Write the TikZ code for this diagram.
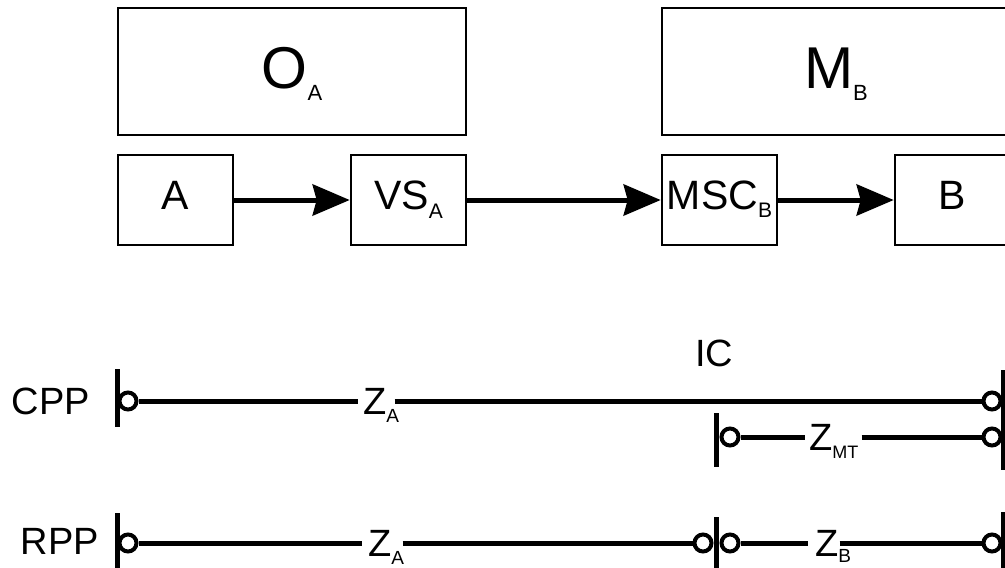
\documentclass[tikz,border=0pt]{standalone}
\usepackage{fontspec}
\setmainfont{Liberation Sans}
\usetikzlibrary{arrows.meta}
\newcommand\mysub[3]{\raisebox{-#1}{\fontsize{#2}{#2}\selectfont #3}}
\begin{document}
\begin{tikzpicture}[x=1pt,y=-1pt,
  bigbox/.style={draw, line width=2.6pt, inner sep=0pt, minimum width=348pt, minimum height=127pt,
     font=\fontsize{59}{59}\selectfont, text height=45pt, text depth=12pt},
  smallbox/.style={draw, line width=2.6pt, inner sep=0pt, minimum width=115pt, minimum height=90pt,
     font=\fontsize{41}{41}\selectfont, text height=29pt, text depth=11pt},
  arr/.style={line width=5pt, -{Stealth[length=37pt,width=31pt,inset=4pt]}},
  port/.style={circle, draw, line width=4pt, minimum size=17pt, inner sep=0pt, fill=white},
  wire/.style={line width=5pt},
  barline/.style={line width=5pt},
  lbl/.style={inner sep=0pt, font=\fontsize{38}{38}\selectfont, text height=28pt, text depth=2pt},
  rowlbl/.style={inner sep=0pt, font=\fontsize{38}{38}\selectfont, text height=28pt, text depth=2pt}
]
\useasboundingbox (0,0) rectangle (1005,568);
\clip (0,0) rectangle (1005,568);

% top boxes
\node[bigbox] (OA) at (292,71.5) {O\mysub{12pt}{22}{A}};
\node[bigbox] (MB) at (836,71.5) {M\mysub{12pt}{22}{B}};
\node[smallbox] (A) at (175.5,200) {A};
\node[smallbox] (VS) at (408.5,200) {VS\mysub{9pt}{21}{A}};
\node[smallbox] (MSC) at (719.5,200) {MSC\mysub{8pt}{21}{B}};
\node[smallbox] (B) at (952.5,200) {B};
\draw[arr] (A) -- (VS);
\draw[arr] (VS) -- (MSC);
\draw[arr] (MSC) -- (B);

% CPP row
\node[rowlbl, anchor=east] (cpp) at (90,401) {CPP};
\draw[barline] (117,369) -- (117,427);
\node[port] (p1) at (128,401) {};
\node[lbl, anchor=west] (za1) at (358,401) {\kern5pt Z\rlap{\mysub{8pt}{19}{A}}\kern8pt};
\node[port] (p2) at (992,401) {};
\draw[wire] (p1) -- (za1);
\draw[wire] (za1) -- (p2);
\node[rowlbl] (ic) at (714,353) {IC};
\draw[barline] (1003,370) -- (1003,470);

% ZMT row
\draw[barline] (716,413) -- (716,467);
\node[port] (p3) at (730,437) {};
\node[lbl, anchor=west] (zmt) at (805,437) {\kern4pt Z\mysub{8pt}{18}{MT}\kern3pt};
\node[port] (p4) at (992,437) {};
\draw[wire] (p3) -- (zmt);
\draw[wire] (zmt) -- (p4);

% RPP row
\node[rowlbl, anchor=east] (rpp) at (99,541) {RPP};
\draw[barline] (117,513) -- (117,580);
\node[port] (p5) at (128,543) {};
\node[lbl, anchor=west] (za2) at (362,543) {\kern6pt Z\rlap{\mysub{8pt}{19}{A}}\kern11pt};
\node[port] (p6) at (703,543) {};
\draw[barline] (716,517) -- (716,580);
\node[port] (p7) at (730,543) {};
\node[lbl, anchor=west] (zb) at (808,543) {\kern7pt Z\rlap{\mysub{6pt}{19}{B}}\kern1pt};
\node[port] (p8) at (992,543) {};
\draw[barline] (1003,512) -- (1003,580);
\draw[wire] (p5) -- (za2);
\draw[wire] (za2) -- (p6);
\draw[wire] (p7) -- (zb);
\draw[wire] (zb) -- (p8);
\end{tikzpicture}
\end{document}
